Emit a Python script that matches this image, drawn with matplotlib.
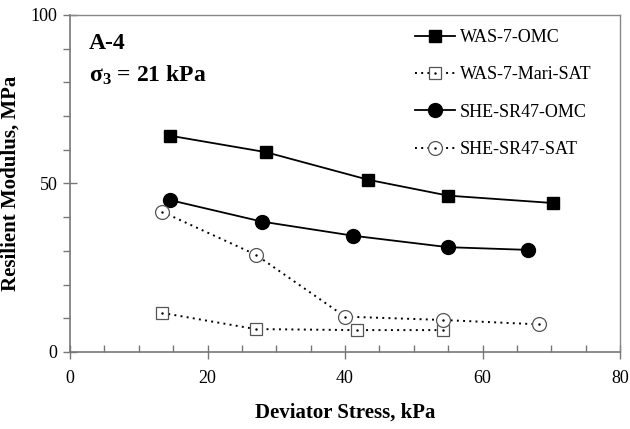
import matplotlib
matplotlib.use("Agg")
import matplotlib.pyplot as plt
from matplotlib.ticker import MultipleLocator
from matplotlib.legend_handler import HandlerTuple

plt.rcParams['font.family'] = ['Liberation Serif', 'DejaVu Serif']
plt.rcParams['mathtext.fontset'] = 'custom'
plt.rcParams['mathtext.rm'] = 'Liberation Serif'
plt.rcParams['mathtext.bf'] = 'Liberation Serif:bold'

# Data
was_omc_x = [14.5, 28.5, 43.4, 55.0, 70.3]
was_omc_y = [64.2, 59.3, 51.1, 46.4, 44.2]

was_sat_x = [13.4, 27.0, 41.7, 54.3]
was_sat_y = [11.6, 6.8, 6.5, 6.5]

she_omc_x = [14.5, 27.9, 41.2, 55.0, 66.6]
she_omc_y = [45.1, 38.7, 34.5, 31.1, 30.3]

she_sat_x = [13.4, 27.0, 40.0, 54.3, 68.2]
she_sat_y = [41.6, 28.9, 10.5, 9.5, 8.2]

labels = ["WAS-7-OMC", "WAS-7-Mari-SAT", "SHE-SR47-OMC", "SHE-SR47-SAT"]

fig = plt.figure(figsize=(6.3, 4.29), dpi=100)
ax = fig.add_axes([70/630, 1-352/429, 550/630, 337/429])

dot = (0, (1.0, 2.2))
l1, = ax.plot(was_omc_x, was_omc_y, color='black', lw=1.3, marker='s', ms=9,
              mfc='black', mec='black', zorder=3)
l2, = ax.plot(was_sat_x, was_sat_y, color='black', lw=1.4, ls=dot, marker='s', ms=9,
              mfc='white', mec='#555555', mew=0.9, zorder=3)
d2, = ax.plot(was_sat_x, was_sat_y, ls='none', marker='.', ms=1.5, color='black', zorder=4)
l3, = ax.plot(she_omc_x, she_omc_y, color='black', lw=1.3, marker='o', ms=10,
              mfc='black', mec='black', zorder=3)
l4, = ax.plot(she_sat_x, she_sat_y, color='black', lw=1.4, ls=dot, marker='o', ms=10,
              mfc='white', mec='#555555', mew=0.9, zorder=3)
d4, = ax.plot(she_sat_x, she_sat_y, ls='none', marker='.', ms=1.5, color='black', zorder=4)

ax.set_xlim(0, 80)
ax.set_ylim(0, 100)
ax.xaxis.set_major_locator(MultipleLocator(20))
ax.xaxis.set_minor_locator(MultipleLocator(5))
ax.yaxis.set_major_locator(MultipleLocator(50))
ax.yaxis.set_minor_locator(MultipleLocator(10))

ax.tick_params(axis='x', which='major', direction='inout', length=10, width=1, color='#777777',
               labelsize=13, pad=8)
ax.tick_params(axis='x', which='minor', direction='in', length=5, width=1, color='#777777')
ax.tick_params(axis='y', which='major', direction='inout', length=10, width=1, color='#777777',
               labelsize=13, pad=4)
ax.tick_params(axis='y', which='minor', direction='out', length=5, width=1, color='#777777')

for s in ['left', 'bottom']:
    ax.spines[s].set_color('#777777')
    ax.spines[s].set_linewidth(1.2)
for s in ['top', 'right']:
    ax.spines[s].set_color('#888888')
    ax.spines[s].set_linewidth(1.0)

ax.set_xlabel("Deviator Stress, kPa", fontsize=15, fontweight='bold', labelpad=11)
ax.set_ylabel("Resilient Modulus, MPa", fontsize=15, fontweight='bold')
ax.yaxis.set_label_coords(-0.089, 0.5)

ax.text(0.035, 0.915, "A-4", transform=ax.transAxes, fontsize=17, fontweight='bold',
        va='center', ha='left')
ax.text(0.035, 0.82, r"$\mathbf{\sigma_3}$ = 21 kPa", transform=ax.transAxes, fontsize=17,
        fontweight='bold', va='center', ha='left')

leg = ax.legend([l1, (l2, d2), l3, (l4, d4)], labels,
                handler_map={tuple: HandlerTuple(ndivide=1, pad=0)},
                loc='upper left', bbox_to_anchor=(0.627, 0.958), frameon=False,
                fontsize=13, labelspacing=1.12, handlelength=2.2, handletextpad=0.28,
                borderaxespad=0, borderpad=0)

fig.savefig("out.png", dpi=100)
